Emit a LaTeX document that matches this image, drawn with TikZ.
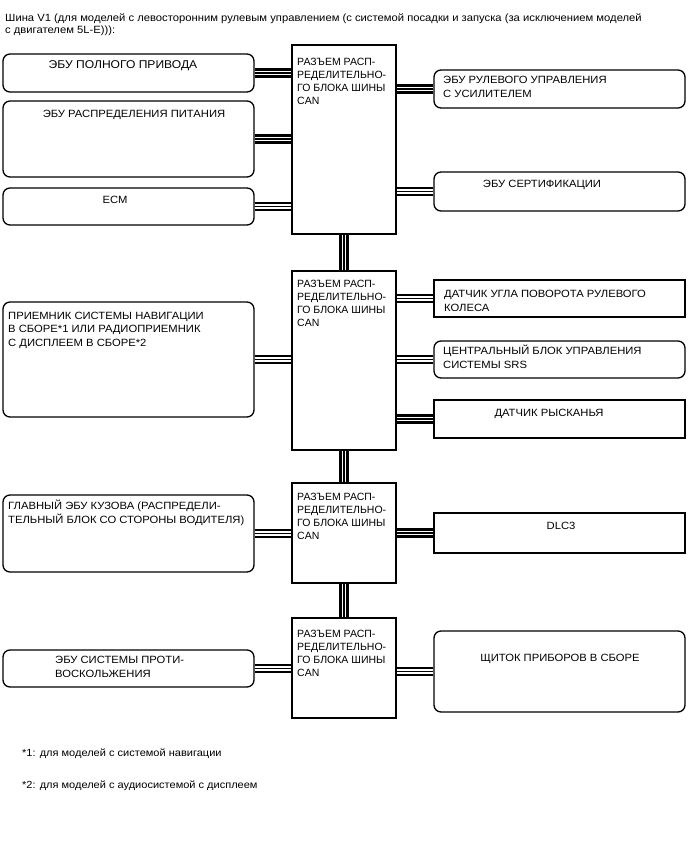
\documentclass[tikz,border=0pt]{standalone}
\usepackage{fontspec}
\setmainfont[FakeStretch=1.07]{Liberation Sans}
\newfontfamily\jfont{Liberation Sans}
\usetikzlibrary{calc}
\newcommand{\jtext}{РАЗЪЕМ РАСП-\\РЕДЕЛИТЕЛЬНО-\\ГО БЛОКА ШИНЫ\\CAN}

\begin{document}
\begin{tikzpicture}[x=1pt,y=-1pt,
		ecu/.style={draw,rounded corners=7pt,line width=1.3pt,inner sep=0pt,minimum width=251pt},
		sqbox/.style={draw,line width=1.3pt,inner sep=0pt,minimum width=251pt},
		jbox/.style={draw,line width=1.3pt,inner sep=0pt,minimum width=104pt},
		txt/.style={inner sep=0pt,align=left,anchor=base west,font=\fontsize{10.5}{13.5}\selectfont},
		ctxt/.style={txt,anchor=base},
		jtxt/.style={txt,font=\jfont\fontsize{10.5}{13.3}\selectfont},
		canbus/.style={line width=9.6pt,postaction={draw=white,line width=4.6pt},postaction={draw=black,line width=1.3pt}},
		]
		\useasboundingbox (0,0) rectangle (688,852);

		% multi-line texts are placed by the baseline of their last line
		\node[txt,font=\fontsize{10.5}{12}\selectfont](title) at (5,33) {Шина V1 (для моделей с левосторонним рулевым управлением (с системой посадки и запуска (за исключением моделей\\с двигателем 5L-E))):};

		% CAN junction connectors
		\node[jbox,minimum height=189pt](j1) at (344,139.5) {};
		\node[jbox,minimum height=179pt](j2) at (344,360.5) {};
		\node[jbox,minimum height=100pt](j3) at (344,533) {};
		\node[jbox,minimum height=100pt](j4) at (344,668) {};

		% left side
		\node[ecu,minimum height=38pt ](b1) at (128.5,73) {};
		\node[ecu,minimum height=76pt ](b2) at (128.5,139) {};
		\node[ecu,minimum height=37pt ](b3) at (128.5,206.5) {};
		\node[ecu,minimum height=115pt](b4) at (128.5,359.5) {};
		\node[ecu,minimum height=77pt ](b5) at (128.5,533.5) {};
		\node[ecu,minimum height=37pt ](b6) at (128.5,668.5) {};

		% right side
		\node[ecu,  minimum height=38pt](r1) at (559.5,89) {};
		\node[ecu,  minimum height=39pt](r2) at (559.5,191.5) {};
		\node[sqbox,minimum height=37pt](r3) at (559.5,298.5) {};
		\node[ecu,  minimum height=37pt](r4) at (559.5,359.5) {};
		\node[sqbox,minimum height=38pt](r5) at (559.5,419) {};
		\node[sqbox,minimum height=40pt](r6) at (559.5,533) {};
		\node[ecu,  minimum height=81pt](r7) at (559.5,671.5) {};

		\draw[canbus] (b1.east) -- (b1.east -| j1.west);
		\draw[canbus] (b2.east) -- (b2.east -| j1.west);
		\draw[canbus] (b3.east) -- (b3.east -| j1.west);
		\draw[canbus] (b4.east) -- (b4.east -| j2.west);
		\draw[canbus] (b5.east) -- (b5.east -| j3.west);
		\draw[canbus] (b6.east) -- (b6.east -| j4.west);
		\draw[canbus] (r1.west) -- (r1.west -| j1.east);
		\draw[canbus] (r2.west) -- (r2.west -| j1.east);
		\draw[canbus] (r3.west) -- (r3.west -| j2.east);
		\draw[canbus] (r4.west) -- (r4.west -| j2.east);
		\draw[canbus] (r5.west) -- (r5.west -| j2.east);
		\draw[canbus] (r6.west) -- (r6.west -| j3.east);
		\draw[canbus] (r7.west) -- (r7.west -| j4.east);
		\draw[canbus] (j1.south) -- (j2.north);
		\draw[canbus] (j2.south) -- (j3.north);
		\draw[canbus] (j3.south) -- (j4.north);

		\node[jtxt](j1t) at (297,104.9) {\jtext};
		\node[jtxt](j2t) at (297,326.9) {\jtext};
		\node[jtxt](j3t) at (297,539.9) {\jtext};
		\node[jtxt](j4t) at (297,676.9) {\jtext};

		\node[ctxt,font=\fontsize{11.3}{13.5}\selectfont](b1t) at (123,68) {ЭБУ ПОЛНОГО ПРИВОДА};
		\node[ctxt](b2t) at (134,117) {ЭБУ РАСПРЕДЕЛЕНИЯ ПИТАНИЯ};
		\node[ctxt](b3t) at (115,203) {ECM};
		\node[txt ](b4t) at (8,346)   {ПРИЕМНИК СИСТЕМЫ НАВИГАЦИИ\\В СБОРЕ*1 ИЛИ РАДИОПРИЕМНИК\\С ДИСПЛЕЕМ В СБОРЕ*2};
		\node[txt ](b5t) at (8,523)   {ГЛАВНЫЙ ЭБУ КУЗОВА (РАСПРЕДЕЛИ-\\ТЕЛЬНЫЙ БЛОК СО СТОРОНЫ ВОДИТЕЛЯ)};
		\node[txt ](b6t) at (55,677)  {ЭБУ СИСТЕМЫ ПРОТИ-\\ВОСКОЛЬЖЕНИЯ};

		\node[txt ](r1t) at (443,97)  {ЭБУ РУЛЕВОГО УПРАВЛЕНИЯ\\С УСИЛИТЕЛЕМ};
		\node[ctxt](r2t) at (542,187) {ЭБУ СЕРТИФИКАЦИИ};
		\node[txt ](r3t) at (444,311) {ДАТЧИК УГЛА ПОВОРОТА РУЛЕВОГО\\КОЛЕСА};
		\node[txt ](r4t) at (443,368) {ЦЕНТРАЛЬНЫЙ БЛОК УПРАВЛЕНИЯ\\СИСТЕМЫ SRS};
		\node[ctxt](r5t) at (549,416) {ДАТЧИК РЫСКАНЬЯ};
		\node[ctxt](r6t) at (561,529) {DLC3};
		\node[ctxt](r7t) at (560,661) {ЩИТОК ПРИБОРОВ В СБОРЕ};

		\node[txt,font=\fontsize{10.3}{12}\selectfont](fn1) at (22,756) {*1: для моделей с системой навигации};
		\node[txt,font=\fontsize{10.3}{12}\selectfont](fn2) at (22,788) {*2: для моделей с аудиосистемой с дисплеем};
\end{tikzpicture}
\end{document}
